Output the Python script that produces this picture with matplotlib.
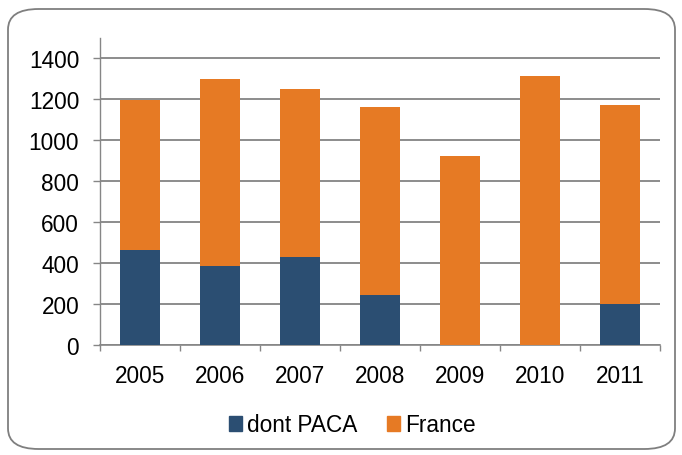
import numpy as np
import matplotlib
matplotlib.use("Agg")
import matplotlib.pyplot as plt
from matplotlib.patches import FancyBboxPatch, Patch

# donnees
annees = ["2005", "2006", "2007", "2008", "2009", "2010", "2011"]
france = [1198, 1302, 1249, 1161, 922, 1314, 1172]
paca = [463, 384, 431, 244, 0, 0, 201]
yticks = [0, 200, 400, 600, 800, 1000, 1200, 1400]

plt.rcParams['font.family'] = ['Liberation Sans', 'DejaVu Sans']

fig = plt.figure(figsize=(6.82, 4.56), dpi=100)

# cadre arrondi autour du graphique
cadre = FancyBboxPatch((8/682, 6/456), 667/682, 440/456,
                       boxstyle="round,pad=0,rounding_size=0.045",
                       transform=fig.transFigure, facecolor="none",
                       edgecolor="#7f7f7f", linewidth=1.3, zorder=0)
fig.patches.append(cadre)

ax = fig.add_axes([100/682, 110/456, 560/682, 307/456])
ax.set_facecolor("none")
ax.set_zorder(2)

x = np.arange(len(annees))
# "dont PACA" est une partie de France : barres superposees
ax.bar(x, france, width=0.5, color="#E67A24", zorder=3)
ax.bar(x, paca, width=0.5, color="#2B4E72", zorder=4)

ax.set_xlim(-0.5, len(annees) - 0.5)
ax.set_ylim(0, 1500)
ax.set_yticks(yticks)
ax.set_xticks(x)
ax.set_xticklabels(annees)
ax.set_xticks(np.arange(len(annees) + 1) - 0.5, minor=True)
ax.tick_params(axis="x", which="major", length=0, pad=14, labelsize=16.3)
ax.tick_params(axis="x", which="minor", length=4.5, color="#868686", width=1)
ax.tick_params(axis="y", length=5, color="#868686", width=1, labelsize=16.3, pad=10)

ax.grid(axis="y", color="#8c8c8c", linewidth=1.4, zorder=1)
for s in ["top", "right"]:
    ax.spines[s].set_visible(False)
ax.spines["left"].set_color("#868686")
ax.spines["bottom"].set_color("#868686")
ax.spines["left"].set_linewidth(1)
ax.spines["bottom"].set_linewidth(1.2)

handles = [Patch(color="#2B4E72", label="dont PACA"),
           Patch(color="#E67A24", label="France")]
fig.legend(handles=handles, loc="center", bbox_to_anchor=(352/682, 1 - 426/456),
           ncol=2, frameon=False, fontsize=16.3, handlelength=0.6, handleheight=0.6,
           handletextpad=0.2, columnspacing=1.3)

fig.savefig("out.png", dpi=100)
